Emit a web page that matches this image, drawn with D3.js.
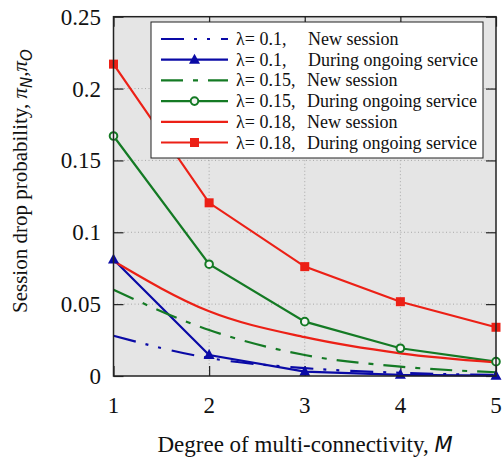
<!DOCTYPE html>
<html><head><meta charset="utf-8">
<script src="https://cdn.jsdelivr.net/npm/d3@7"></script>
<style>body{margin:0;background:#fff}svg{display:block}
.serif{font-family:"Liberation Serif","Times New Roman",Times,"DejaVu Serif",serif}
.sansi{font-family:"DejaVu Sans",sans-serif;font-style:italic}
</style>
</head><body>
<script>
const M = [1, 2, 3, 4, 5];
const xTicks = [1, 2, 3, 4, 5];
const yTicks = [0, 0.05, 0.1, 0.15, 0.2, 0.25];
const yTickLabels = ["0", "0.05", "0.1", "0.15", "0.2", "0.25"];
const new01 = [0.028, 0.0125, 0.0055, 0.0022, 0.0008];
const ongoing01 = [0.081, 0.0146, 0.003, 0.0008, 0.0002];
const new015 = [0.060, 0.032, 0.0146, 0.0065, 0.0026];
const ongoing015 = [0.167, 0.0778, 0.0378, 0.0193, 0.0100];
const new018 = [0.080, 0.045, 0.027, 0.0158, 0.0095];
const ongoing018 = [0.217, 0.1205, 0.0761, 0.0517, 0.0339];
const seriesNames = [
  ["λ= 0.1,", "New session"],
  ["λ= 0.1,", "During ongoing service"],
  ["λ= 0.15,", "New session"],
  ["λ= 0.15,", "During ongoing service"],
  ["λ= 0.18,", "New session"],
  ["λ= 0.18,", "During ongoing service"]
];

const BLUE = "#0a0aa6", GREEN = "#147a24", RED = "#ec2016";
const series = [
  {vals: new01, color: BLUE, dash: "23,10,3,10,3,11", marker: null, smooth: true},
  {vals: ongoing01, color: BLUE, dash: null, marker: "tri", smooth: false},
  {vals: new015, color: GREEN, dash: "22,10,5,10", marker: null, smooth: true},
  {vals: ongoing015, color: GREEN, dash: null, marker: "circle", smooth: false},
  {vals: new018, color: RED, dash: null, marker: null, smooth: true},
  {vals: ongoing018, color: RED, dash: null, marker: "square", smooth: false}
];

const W = 504, H = 457;
const L = 113.5, R = 496, T = 16.7, B = 376;
const svg = d3.select("body").append("svg").attr("width", W).attr("height", H);
const x = d3.scaleLinear().domain([1, 5]).range([L, R]);
const y = d3.scaleLinear().domain([0, 0.25]).range([B, T]);

svg.append("rect").attr("x", L).attr("y", T).attr("width", R - L).attr("height", B - T).attr("fill", "#e5e5e5");

// grid
svg.append("g").selectAll("line").data(xTicks.slice(1, -1)).join("line")
  .attr("x1", d => x(d)).attr("x2", d => x(d)).attr("y1", T).attr("y2", B)
  .attr("stroke", "#a8a8a8").attr("stroke-dasharray", "1,2.5");
svg.append("g").selectAll("line").data(yTicks.slice(1, -1)).join("line")
  .attr("y1", d => y(d)).attr("y2", d => y(d)).attr("x1", L).attr("x2", R)
  .attr("stroke", "#a8a8a8").attr("stroke-dasharray", "1,2.5");

// axes (inward ticks) on all four sides
const tl = 10;
const bottomAxis = d3.axisBottom(x).tickValues(xTicks).tickSize(-tl).tickFormat("");
const topAxis = d3.axisTop(x).tickValues(xTicks).tickSize(-tl).tickFormat("");
const leftAxis = d3.axisLeft(y).tickValues(yTicks).tickSize(-tl).tickFormat("");
const rightAxis = d3.axisRight(y).tickValues(yTicks).tickSize(-tl).tickFormat("");
[[bottomAxis, `translate(0,${B})`], [topAxis, `translate(0,${T})`], [leftAxis, `translate(${L},0)`], [rightAxis, `translate(${R},0)`]]
  .forEach(([ax, tr]) => {
    const g = svg.append("g").attr("transform", tr).call(ax);
    g.select(".domain").remove();
    g.selectAll(".tick line").attr("stroke", "#222").attr("stroke-width", 1.2);
  });

// tick labels
svg.append("g").selectAll("text").data(xTicks).join("text").attr("class", "serif")
  .attr("x", d => x(d)).attr("y", 413).attr("text-anchor", "middle")
  .attr("font-size", 23).attr("fill", "#111").text(d => d);
svg.append("g").selectAll("text").data(yTicks).join("text").attr("class", "serif")
  .attr("x", 101).attr("y", d => y(d) + 8).attr("text-anchor", "end")
  .attr("font-size", 23).attr("fill", "#111").text((d, i) => yTickLabels[i]);

// lines
series.forEach(s => {
  const line = d3.line().x((d, i) => x(M[i])).y(d => y(d))
    .curve(s.smooth ? d3.curveMonotoneX : d3.curveLinear);
  svg.append("path").datum(s.vals).attr("d", line).attr("fill", "none")
    .attr("stroke", s.color).attr("stroke-width", 2.2)
    .attr("stroke-dasharray", s.dash);
});

function drawMarker(g, type, cx, cy, color) {
  if (type === "tri") {
    g.append("path").attr("d", `M${cx},${cy - 6}L${cx + 5.5},${cy + 4}L${cx - 5.5},${cy + 4}Z`).attr("fill", color);
  } else if (type === "circle") {
    g.append("circle").attr("cx", cx).attr("cy", cy).attr("r", 3.8).attr("fill", "#f4f4f4").attr("stroke", color).attr("stroke-width", 2);
  } else if (type === "square") {
    g.append("rect").attr("x", cx - 4.5).attr("y", cy - 4.5).attr("width", 9).attr("height", 9).attr("fill", color);
  }
}
const mg = svg.append("g");
series.forEach(s => {
  if (!s.marker) return;
  s.vals.forEach((v, i) => drawMarker(mg, s.marker, x(M[i]), y(v), s.color));
});

// border
svg.append("rect").attr("x", L).attr("y", T).attr("width", R - L).attr("height", B - T)
  .attr("fill", "none").attr("stroke", "#222").attr("stroke-width", 1.5);

// legend
const lg = svg.append("g");
lg.append("rect").attr("x", 151).attr("y", 22).attr("width", 332).attr("height", 136)
  .attr("fill", "#fff").attr("stroke", "#222").attr("stroke-width", 1);
series.forEach((s, i) => {
  const cy = 39 + i * 20.7;
  lg.append("line").attr("x1", 161).attr("x2", 228).attr("y1", cy).attr("y2", cy)
    .attr("stroke", s.color).attr("stroke-width", 2.2).attr("stroke-dasharray", s.dash);
  if (s.marker) drawMarker(lg, s.marker, 194.5, cy, s.color);
  const t = lg.append("text").attr("class", "serif").attr("y", cy + 6).attr("font-size", 18).attr("fill", "#111");
  t.append("tspan").attr("x", 236).text(seriesNames[i][0]);
  t.append("tspan").attr("x", seriesNames[i][0].length > 7 ? 307 : 308).text(seriesNames[i][1]);
});

// axis titles
const xt = svg.append("text").attr("class", "serif").attr("x", 305).attr("y", 452).attr("text-anchor", "middle")
  .attr("font-size", 23).attr("fill", "#111");
xt.append("tspan").text("Degree of multi-connectivity, ");
xt.append("tspan").attr("class", "sansi").attr("font-size", 21).text("M");

const yt = svg.append("text").attr("class", "serif").attr("transform", "translate(27,313) rotate(-90)").attr("text-anchor", "start")
  .attr("font-size", 21).attr("fill", "#111");
yt.append("tspan").text("Session drop probability, ");
yt.append("tspan").attr("font-style", "italic").text("π");
yt.append("tspan").attr("class", "sansi").attr("font-size", 15).attr("dy", 5).text("N");
yt.append("tspan").attr("dy", -5).text(",");
yt.append("tspan").attr("font-style", "italic").text("π");
yt.append("tspan").attr("class", "sansi").attr("font-size", 15).attr("dy", 5).text("O");
</script>
</body></html>
